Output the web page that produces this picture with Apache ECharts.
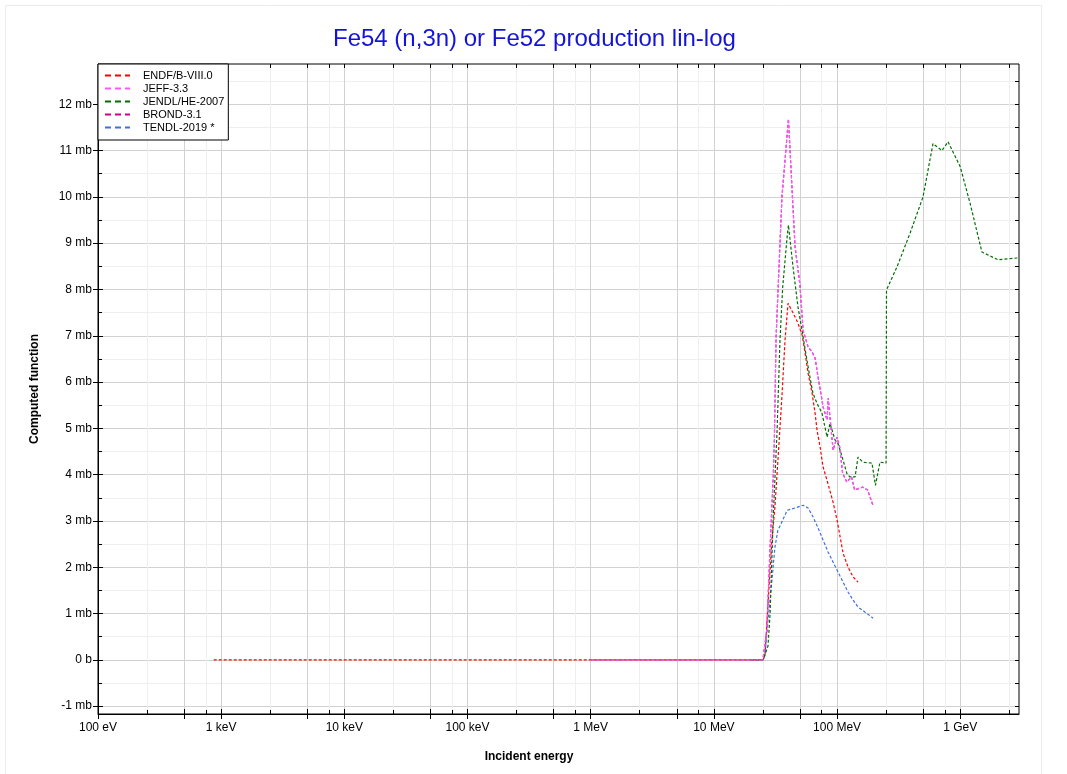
<!DOCTYPE html>
<html>
<head>
<meta charset="utf-8">
<script src="https://cdn.jsdelivr.net/npm/echarts@6/dist/echarts.min.js"></script>
<style>
html,body{margin:0;padding:0;background:#fff;}
#chart{width:1067px;height:774px;}
</style>
</head>
<body>
<div id="chart"></div>
<script>
// ---- data (energy in eV, value in mb) ----
const seriesNames = ['ENDF/B-VIII.0', 'JEFF-3.3', 'JENDL/HE-2007', 'BROND-3.1', 'TENDL-2019 *'];

const endfData = [[870,0],[2.51e7,0],[2.6e7,0.1],[2.75e7,1.2],[2.96e7,2.6],[3.13e7,3.3],[3.31e7,4.3],[3.57e7,5.7],[3.78e7,6.9],[4.0e7,7.7],
  [4.4e7,7.49],[4.8e7,7.28],[5.2e7,7.02],[5.5e7,6.63],[5.82e7,6.19],[6.27e7,5.76],[6.63e7,5.33],[6.88e7,4.96],[7.28e7,4.6],[7.69e7,4.17],
  [8.45e7,3.8],[9.29e7,3.4],[1.0e8,3.02],[1.06e8,2.65],[1.12e8,2.3],[1.23e8,2.0],[1.35e8,1.79],[1.48e8,1.68]];

const jeffData = [[1e6,0],[2.5e7,0],[2.69e7,0.64],[2.86e7,2.43],[3.04e7,4.03],[3.1e7,4.8],[3.2e7,6.98],[3.57e7,10.0],[4.03e7,11.68],
  [4.56e7,8.92],[5.0e7,8.1],[5.3e7,7.12],[5.82e7,6.76],[6.27e7,6.65],[6.63e7,6.52],[7.02e7,6.1],[7.71e7,5.46],[8.3e7,5.18],[8.47e7,5.65],
  [9.29e7,4.53],[1.0e8,4.81],[1.05e8,4.6],[1.11e8,4.03],[1.2e8,3.84],[1.31e8,3.95],[1.39e8,3.67],[1.61e8,3.73],[1.77e8,3.67],[1.96e8,3.33]];

const jendlData = [[2.0e7,0],[2.51e7,0],[2.75e7,0.3],[2.86e7,1.0],[3.04e7,3.16],[3.26e7,4.96],[3.44e7,6.9],[3.62e7,8.05],[3.93e7,9.13],[4.03e7,9.39],
  [4.39e7,8.49],[4.82e7,7.62],[5.19e7,7.12],[5.7e7,6.47],[6.03e7,6.1],[6.37e7,5.76],[6.87e7,5.54],[7.54e7,5.33],[8.3e7,4.81],[8.77e7,5.11],
  [9.62e7,4.75],[1.02e8,4.67],[1.12e8,4.31],[1.2e8,4.03],[1.27e8,3.95],[1.4e8,3.95],[1.48e8,4.38],[1.62e8,4.27],[1.92e8,4.25],[2.05e8,3.77],
  [2.23e8,4.27],[2.5e8,4.25],[2.52e8,7.99],[3.07e8,8.49],[3.92e8,9.22],[4.99e8,10.0],[6.01e8,11.15],[7.11e8,11.0],[7.96e8,11.19],
  [1.0e9,10.65],[1.2e9,9.87],[1.5e9,8.81],[2.03e9,8.64],[2.9e9,8.68],[3.0e9,8.68]];

const brondData = [[1e6,0],[2.5e7,0],[2.69e7,0.64],[2.86e7,2.43],[3.04e7,4.03],[3.1e7,4.8],[3.2e7,6.98],[3.57e7,10.0],[4.03e7,11.68],
  [4.56e7,8.92],[5.0e7,8.1],[5.3e7,7.12],[5.82e7,6.76],[6.27e7,6.65],[6.63e7,6.52],[7.02e7,6.1],[7.71e7,5.46],[8.3e7,5.18],[8.47e7,5.65],
  [9.29e7,4.53],[1.0e8,4.81],[1.05e8,4.6],[1.11e8,4.03],[1.2e8,3.84],[1.31e8,3.95],[1.39e8,3.67],[1.61e8,3.73],[1.77e8,3.67],[1.96e8,3.33]];

const tendlData = [[2.0e7,0],[2.51e7,0],[2.6e7,0.1],[2.75e7,0.85],[2.96e7,1.72],[3.13e7,2.43],[3.31e7,2.8],[3.57e7,2.98],[3.93e7,3.23],
  [4.56e7,3.28],[5.3e7,3.34],[5.82e7,3.28],[6.38e7,3.09],[7.01e7,2.85],[7.69e7,2.59],[8.45e7,2.33],[9.29e7,2.11],[1.02e8,1.89],
  [1.12e8,1.68],[1.23e8,1.46],[1.35e8,1.29],[1.48e8,1.14],[1.69e8,1.03],[1.96e8,0.9]];

const energyTickLabels = ['100 eV','1 keV','10 keV','100 keV','1 MeV','10 MeV','100 MeV','1 GeV'];
const yTickValues = [-1,0,1,2,3,4,5,6,7,8,9,10,11,12];

// ---- layout / scale settings ----
const xMin = 100, xMax = 3e9;
const yMin = -1.17, yMax = 12.87;
const lmin = Math.log10(xMin), lmax = Math.log10(xMax);

const majorX = [], minorX = [];
for (let n = 2; n <= 9; n++) {
  [n, n + Math.log10(5)].forEach(v => { if (v >= lmin - 1e-9 && v <= lmax + 1e-9) majorX.push(v); });
  [n + Math.log10(2.5), n + Math.log10(7.5)].forEach(v => { if (v >= lmin && v <= lmax) minorX.push(v); });
}
const allX = majorX.concat(minorX);
const halfY = [];
for (let v = -1; v <= 12.5; v += 0.5) halfY.push(v);
const minorY = halfY.filter(v => Math.abs(v - Math.round(v)) > 0.1);

function helperX(pos, vals, inside, len, splitColor) {
  return {
    type: 'value', position: pos, min: lmin, max: lmax,
    axisLine: {show: false, onZero: false}, axisLabel: {show: false},
    axisTick: {show: true, inside: inside, length: len, customValues: vals, lineStyle: {color: '#000', width: 1}},
    splitLine: {show: !!splitColor, lineStyle: {color: splitColor || '#fff', width: 1}}
  };
}
function helperY(pos, vals, inside, len, splitColor) {
  return {
    type: 'value', position: pos, min: yMin, max: yMax,
    axisLine: {show: false, onZero: false}, axisLabel: {show: false},
    axisTick: {show: true, inside: inside, length: len, customValues: vals, lineStyle: {color: '#000', width: 1}},
    splitLine: {show: !!splitColor, lineStyle: {color: splitColor || '#fff', width: 1}}
  };
}

function fmtEnergy(v) {
  const lg = Math.log10(v);
  const p = Math.round(lg);
  if (Math.abs(lg - p) > 1e-6) return '';
  return energyTickLabels[p - 2] || '';
}

const colors = ['#ff0000', '#ff55ff', '#007000', '#cc0099', '#3f6fe0'];
const datasets = [endfData, jeffData, jendlData, brondData, tendlData];
const drawOrder = [3, 0, 4, 2, 1];
const dashIcon = 'path://M0,0h6v2h-6z M10,0h6v2h-6z M20,0h5v2h-5z';

const series = drawOrder.map(i => ({
  name: seriesNames[i],
  type: 'line',
  xAxisIndex: 4,
  yAxisIndex: 1,
  data: datasets[i],
  symbol: 'none',
  showSymbol: false,
  legendIcon: dashIcon,
  animation: false,
  lineStyle: {color: colors[i], width: 1.2, type: [3, 2]},
  itemStyle: {color: colors[i]},
  z: 3
}));

const chart = echarts.init(document.getElementById('chart'), null, {renderer: 'canvas'});
chart.setOption({
  animation: false,
  backgroundColor: '#fff',
  textStyle: {fontFamily: 'Liberation Sans, Arial, sans-serif'},
  title: {
    text: 'Fe54 (n,3n) or Fe52 production lin-log',
    left: 328, top: 22,
    textStyle: {color: '#1414d8', fontSize: 24, fontWeight: 'normal', fontFamily: 'Liberation Sans, Arial, sans-serif'}
  },
  graphic: [{
    type: 'rect', z: -10, silent: true,
    shape: {x: 5.5, y: 5.5, width: 1036, height: 800},
    style: {fill: 'none', stroke: '#ececec', lineWidth: 1}
  }],
  grid: {left: 98, right: 48, top: 64, bottom: 60, show: true, backgroundColor: '#fff', borderColor: '#000', borderWidth: 1},
  legend: {
    data: seriesNames.map(n => ({name: n, icon: dashIcon})),
    orient: 'vertical',
    left: 98, top: 64,
    padding: [5, 4, 6, 7],
    itemGap: 0,
    itemWidth: 25, itemHeight: 2,
    backgroundColor: '#fff',
    borderColor: '#000', borderWidth: 1,
    selectedMode: false,
    textStyle: {fontSize: 11, lineHeight: 13, color: '#000', padding: [0, 0, 0, 8], fontFamily: 'Liberation Sans, Arial, sans-serif'}
  },
  xAxis: [
    helperX('bottom', minorX, true, 4, '#efefef'),
    helperX('bottom', majorX, true, 5, '#d2d2d2'),
    helperX('bottom', majorX, false, 5, null),
    helperX('top', allX, true, 4, null),
    {
      type: 'log', logBase: 10, min: xMin, max: xMax, position: 'bottom',
      axisLine: {show: true, onZero: false, lineStyle: {color: '#000', width: 1}},
      axisTick: {show: false},
      splitLine: {show: false},
      minorTick: {show: false}, minorSplitLine: {show: false},
      axisLabel: {formatter: fmtEnergy, color: '#000', fontSize: 12, margin: 8, showMinLabel: true, showMaxLabel: true},
      name: 'Incident energy', nameLocation: 'middle', nameGap: 37,
      nameTextStyle: {fontWeight: 'bold', fontSize: 12, color: '#000', padding: [0, 59, 0, 0]}
    }
  ],
  yAxis: [
    helperY('left', minorY, true, 4, '#efefef'),
    {
      type: 'value', position: 'left', min: yMin, max: yMax,
      axisLine: {show: true, onZero: false, lineStyle: {color: '#000', width: 1}},
      axisTick: {show: true, inside: false, length: 5, customValues: yTickValues, lineStyle: {color: '#000'}},
      axisLabel: {customValues: yTickValues, formatter: v => (Math.abs(v) < 1e-9 ? '0 b' : Math.round(v) + ' mb'), color: '#000', fontSize: 12, margin: 6},
      splitLine: {show: true, lineStyle: {color: '#d2d2d2', width: 1}},
      name: 'Computed function', nameLocation: 'middle', nameGap: 57,
      nameTextStyle: {fontWeight: 'bold', fontSize: 12, color: '#000'}
    },
    helperY('left', yTickValues, true, 5, null),
    helperY('right', halfY, true, 4, null)
  ],
  series: series
});
</script>
</body>
</html>
